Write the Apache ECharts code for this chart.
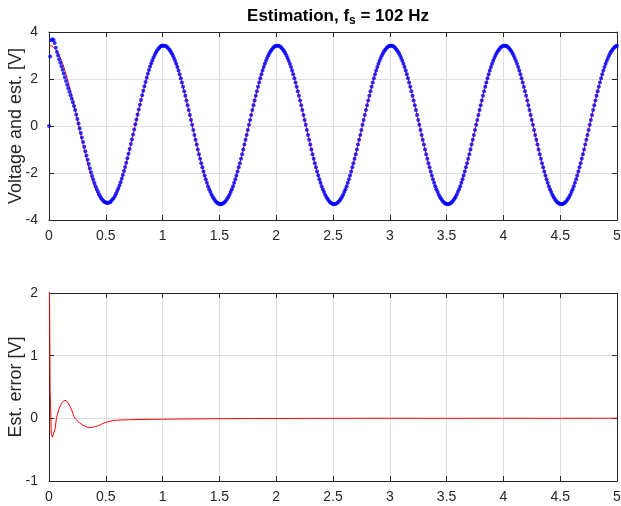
<!DOCTYPE html>
<html>
<head>
<meta charset="utf-8">
<script src="https://cdn.jsdelivr.net/npm/echarts@6/dist/echarts.min.js"></script>
<style>
    html, body { margin: 0; padding: 0; background: #fff; }
    #chart { width: 621px; height: 506px; }
</style>
</head>
<body>
<div id="chart"></div>
<script>
    // sample grid: 0 .. 5 s, one sample every 10 ms
    var sampleStep = 0.01;
    var sampleCount = 501;

    var voltage = [
        3.41, 3.42, 3.41, 3.39, 3.36, 3.31, 3.25, 3.18, 3.10, 3.00, 2.89, 2.78, 2.65, 2.51, 2.36, 2.20, 2.03, 1.85, 1.67, 1.48, 1.29, 1.09, 0.88, 0.68, 0.47, 0.26, 0.05, -0.17, -0.38, -0.59, -0.79, -1.00, -1.20, -1.39, -1.58, -1.76, -1.94, -2.11, -2.27, -2.42, -2.56, -2.69, -2.80, -2.91, -3.01, -3.09, -3.16, -3.22, -3.27, -3.30, -3.32, -3.33, -3.32, -3.30, -3.27, -3.22, -3.16, -3.09, -3.01, -2.91, -2.80, -2.69, -2.56, -2.42, -2.27, -2.11, -1.94, -1.76, -1.58, -1.39, -1.20, -1.00, -0.79, -0.59, -0.38, -0.17, 0.05, 0.26, 0.47, 0.68, 0.88, 1.09, 1.29, 1.48, 1.67, 1.85, 2.03, 2.20, 2.36, 2.51, 2.65, 2.78, 2.89, 3.00, 3.10, 3.18, 3.25, 3.31, 3.36, 3.39,
        3.41, 3.42, 3.41, 3.39, 3.36, 3.31, 3.25, 3.18, 3.10, 3.00, 2.89, 2.78, 2.65, 2.51, 2.36, 2.20, 2.03, 1.85, 1.67, 1.48, 1.29, 1.09, 0.88, 0.68, 0.47, 0.26, 0.05, -0.17, -0.38, -0.59, -0.79, -1.00, -1.20, -1.39, -1.58, -1.76, -1.94, -2.11, -2.27, -2.42, -2.56, -2.69, -2.80, -2.91, -3.01, -3.09, -3.16, -3.22, -3.27, -3.30, -3.32, -3.33, -3.32, -3.30, -3.27, -3.22, -3.16, -3.09, -3.01, -2.91, -2.80, -2.69, -2.56, -2.42, -2.27, -2.11, -1.94, -1.76, -1.58, -1.39, -1.20, -1.00, -0.79, -0.59, -0.38, -0.17, 0.05, 0.26, 0.47, 0.68, 0.88, 1.09, 1.29, 1.48, 1.67, 1.85, 2.03, 2.20, 2.36, 2.51, 2.65, 2.78, 2.89, 3.00, 3.10, 3.18, 3.25, 3.31, 3.36, 3.39,
        3.41, 3.42, 3.41, 3.39, 3.36, 3.31, 3.25, 3.18, 3.10, 3.00, 2.89, 2.78, 2.65, 2.51, 2.36, 2.20, 2.03, 1.85, 1.67, 1.48, 1.29, 1.09, 0.88, 0.68, 0.47, 0.26, 0.05, -0.17, -0.38, -0.59, -0.79, -1.00, -1.20, -1.39, -1.58, -1.76, -1.94, -2.11, -2.27, -2.42, -2.56, -2.69, -2.80, -2.91, -3.01, -3.09, -3.16, -3.22, -3.27, -3.30, -3.32, -3.33, -3.32, -3.30, -3.27, -3.22, -3.16, -3.09, -3.01, -2.91, -2.80, -2.69, -2.56, -2.42, -2.27, -2.11, -1.94, -1.76, -1.58, -1.39, -1.20, -1.00, -0.79, -0.59, -0.38, -0.17, 0.05, 0.26, 0.47, 0.68, 0.88, 1.09, 1.29, 1.48, 1.67, 1.85, 2.03, 2.20, 2.36, 2.51, 2.65, 2.78, 2.89, 3.00, 3.10, 3.18, 3.25, 3.31, 3.36, 3.39,
        3.41, 3.42, 3.41, 3.39, 3.36, 3.31, 3.25, 3.18, 3.10, 3.00, 2.89, 2.78, 2.65, 2.51, 2.36, 2.20, 2.03, 1.85, 1.67, 1.48, 1.29, 1.09, 0.88, 0.68, 0.47, 0.26, 0.05, -0.17, -0.38, -0.59, -0.79, -1.00, -1.20, -1.39, -1.58, -1.76, -1.94, -2.11, -2.27, -2.42, -2.56, -2.69, -2.80, -2.91, -3.01, -3.09, -3.16, -3.22, -3.27, -3.30, -3.32, -3.33, -3.32, -3.30, -3.27, -3.22, -3.16, -3.09, -3.01, -2.91, -2.80, -2.69, -2.56, -2.42, -2.27, -2.11, -1.94, -1.76, -1.58, -1.39, -1.20, -1.00, -0.79, -0.59, -0.38, -0.17, 0.05, 0.26, 0.47, 0.68, 0.88, 1.09, 1.29, 1.48, 1.67, 1.85, 2.03, 2.20, 2.36, 2.51, 2.65, 2.78, 2.89, 3.00, 3.10, 3.18, 3.25, 3.31, 3.36, 3.39,
        3.41, 3.42, 3.41, 3.39, 3.36, 3.31, 3.25, 3.18, 3.10, 3.00, 2.89, 2.78, 2.65, 2.51, 2.36, 2.20, 2.03, 1.85, 1.67, 1.48, 1.29, 1.09, 0.88, 0.68, 0.47, 0.26, 0.05, -0.17, -0.38, -0.59, -0.79, -1.00, -1.20, -1.39, -1.58, -1.76, -1.94, -2.11, -2.27, -2.42, -2.56, -2.69, -2.80, -2.91, -3.01, -3.09, -3.16, -3.22, -3.27, -3.30, -3.32, -3.33, -3.32, -3.30, -3.27, -3.22, -3.16, -3.09, -3.01, -2.91, -2.80, -2.69, -2.56, -2.42, -2.27, -2.11, -1.94, -1.76, -1.58, -1.39, -1.20, -1.00, -0.79, -0.59, -0.38, -0.17, 0.05, 0.26, 0.47, 0.68, 0.88, 1.09, 1.29, 1.48, 1.67, 1.85, 2.03, 2.20, 2.36, 2.51, 2.65, 2.78, 2.89, 3.00, 3.10, 3.18, 3.25, 3.31, 3.36, 3.39,
        3.41
    ];

    // estimator output [V] (blue dots)
    var estimate = [
        0, 2.96, 3.65, 3.69, 3.66, 3.53, 3.33, 3.15, 3.00, 2.84, 2.69, 2.54, 2.39, 2.23, 2.07, 1.92, 1.76, 1.61, 1.46, 1.31, 1.16, 1.01, 0.85, 0.68, 0.49, 0.30, 0.11, -0.10, -0.30, -0.49, -0.68, -0.88, -1.07, -1.26, -1.44, -1.62, -1.80, -1.97, -2.13, -2.28, -2.43, -2.56, -2.68, -2.79, -2.90, -2.99, -3.07, -3.14, -3.19, -3.23, -3.26, -3.27, -3.27, -3.25, -3.23, -3.18, -3.12, -3.06, -2.98, -2.88, -2.77, -2.66, -2.53, -2.39, -2.24, -2.09, -1.92, -1.74, -1.56, -1.37, -1.18, -0.98, -0.77, -0.57, -0.36, -0.15, 0.07, 0.28, 0.49, 0.70, 0.90, 1.11, 1.31, 1.50, 1.69, 1.87, 2.05, 2.22, 2.38, 2.53, 2.67, 2.80, 2.91, 3.02, 3.12, 3.20, 3.27, 3.33, 3.38, 3.41,
        3.41, 3.42, 3.41, 3.39, 3.36, 3.31, 3.25, 3.18, 3.10, 3.00, 2.89, 2.78, 2.65, 2.51, 2.36, 2.20, 2.03, 1.85, 1.67, 1.48, 1.29, 1.09, 0.88, 0.68, 0.47, 0.26, 0.05, -0.17, -0.38, -0.59, -0.79, -1.00, -1.20, -1.39, -1.58, -1.76, -1.94, -2.11, -2.27, -2.42, -2.56, -2.69, -2.80, -2.91, -3.01, -3.09, -3.16, -3.22, -3.27, -3.30, -3.32, -3.33, -3.32, -3.30, -3.27, -3.22, -3.16, -3.09, -3.01, -2.91, -2.80, -2.69, -2.56, -2.42, -2.27, -2.11, -1.94, -1.76, -1.58, -1.39, -1.20, -1.00, -0.79, -0.59, -0.38, -0.17, 0.05, 0.26, 0.47, 0.68, 0.88, 1.09, 1.29, 1.48, 1.67, 1.85, 2.03, 2.20, 2.36, 2.51, 2.65, 2.78, 2.89, 3.00, 3.10, 3.18, 3.25, 3.31, 3.36, 3.39,
        3.41, 3.42, 3.41, 3.39, 3.36, 3.31, 3.25, 3.18, 3.10, 3.00, 2.89, 2.78, 2.65, 2.51, 2.36, 2.20, 2.03, 1.85, 1.67, 1.48, 1.29, 1.09, 0.88, 0.68, 0.47, 0.26, 0.05, -0.17, -0.38, -0.59, -0.79, -1.00, -1.20, -1.39, -1.58, -1.76, -1.94, -2.11, -2.27, -2.42, -2.56, -2.69, -2.80, -2.91, -3.01, -3.09, -3.16, -3.22, -3.27, -3.30, -3.32, -3.33, -3.32, -3.30, -3.27, -3.22, -3.16, -3.09, -3.01, -2.91, -2.80, -2.69, -2.56, -2.42, -2.27, -2.11, -1.94, -1.76, -1.58, -1.39, -1.20, -1.00, -0.79, -0.59, -0.38, -0.17, 0.05, 0.26, 0.47, 0.68, 0.88, 1.09, 1.29, 1.48, 1.67, 1.85, 2.03, 2.20, 2.36, 2.51, 2.65, 2.78, 2.89, 3.00, 3.10, 3.18, 3.25, 3.31, 3.36, 3.39,
        3.41, 3.42, 3.41, 3.39, 3.36, 3.31, 3.25, 3.18, 3.10, 3.00, 2.89, 2.78, 2.65, 2.51, 2.36, 2.20, 2.03, 1.85, 1.67, 1.48, 1.29, 1.09, 0.88, 0.68, 0.47, 0.26, 0.05, -0.17, -0.38, -0.59, -0.79, -1.00, -1.20, -1.39, -1.58, -1.76, -1.94, -2.11, -2.27, -2.42, -2.56, -2.69, -2.80, -2.91, -3.01, -3.09, -3.16, -3.22, -3.27, -3.30, -3.32, -3.33, -3.32, -3.30, -3.27, -3.22, -3.16, -3.09, -3.01, -2.91, -2.80, -2.69, -2.56, -2.42, -2.27, -2.11, -1.94, -1.76, -1.58, -1.39, -1.20, -1.00, -0.79, -0.59, -0.38, -0.17, 0.05, 0.26, 0.47, 0.68, 0.88, 1.09, 1.29, 1.48, 1.67, 1.85, 2.03, 2.20, 2.36, 2.51, 2.65, 2.78, 2.89, 3.00, 3.10, 3.18, 3.25, 3.31, 3.36, 3.39,
        3.41, 3.42, 3.41, 3.39, 3.36, 3.31, 3.25, 3.18, 3.10, 3.00, 2.89, 2.78, 2.65, 2.51, 2.36, 2.20, 2.03, 1.85, 1.67, 1.48, 1.29, 1.09, 0.88, 0.68, 0.47, 0.26, 0.05, -0.17, -0.38, -0.59, -0.79, -1.00, -1.20, -1.39, -1.58, -1.76, -1.94, -2.11, -2.27, -2.42, -2.56, -2.69, -2.80, -2.91, -3.01, -3.09, -3.16, -3.22, -3.27, -3.30, -3.32, -3.33, -3.32, -3.30, -3.27, -3.22, -3.16, -3.09, -3.01, -2.91, -2.80, -2.69, -2.56, -2.42, -2.27, -2.11, -1.94, -1.76, -1.58, -1.39, -1.20, -1.00, -0.79, -0.59, -0.38, -0.17, 0.05, 0.26, 0.47, 0.68, 0.88, 1.09, 1.29, 1.48, 1.67, 1.85, 2.03, 2.20, 2.36, 2.51, 2.65, 2.78, 2.89, 3.00, 3.10, 3.18, 3.25, 3.31, 3.36, 3.39,
        3.41
    ];

    // estimation error (lower plot)
    var errTime = [0, 0.01, 0.02, 0.03, 0.035, 0.045, 0.055, 0.065, 0.08, 0.09, 0.10, 0.11, 0.12, 0.13, 0.14, 0.15, 0.16, 0.17, 0.18, 0.19, 0.20, 0.21, 0.22, 0.23, 0.25, 0.27, 0.29, 0.31, 0.33, 0.35, 0.37, 0.39, 0.41, 0.43, 0.45, 0.47, 0.50, 0.53, 0.56, 0.60, 0.65, 0.70, 0.80, 0.90, 1.00, 1.2, 1.4, 1.6, 1.8, 2.0, 2.5, 3.0, 3.5, 4.0, 4.5, 5.0];
    var errValue = [3.41, 0.46, -0.24, -0.30, -0.32, -0.28, -0.16, 0.0, 0.10, 0.16, 0.20, 0.24, 0.265, 0.28, 0.29, 0.285, 0.27, 0.24, 0.21, 0.17, 0.13, 0.08, 0.03, -0.005, -0.04, -0.07, -0.10, -0.12, -0.135, -0.145, -0.145, -0.14, -0.13, -0.12, -0.105, -0.085, -0.065, -0.05, -0.037, -0.03, -0.025, -0.023, -0.019, -0.016, -0.014, -0.01, -0.007, -0.005, -0.003, -0.002, 0, 0.001, 0, 0.001, 0, 0.002];

    var xTicks = { min: 0, max: 5, interval: 0.5 };
    var topTicks = { min: -4, max: 4, interval: 2 };
    var bottomTicks = { min: -1, max: 2, interval: 1 };

    var time = [];
    for (var i = 0; i < sampleCount; i++) {
        time.push(+(i * sampleStep).toFixed(2));
    }
    var voltagePts = time.map(function (t, i) { return [t, voltage[i]]; });
    var estimatePts = time.map(function (t, i) { return [t, estimate[i]]; });
    var errPts = errTime.map(function (t, i) { return [t, errValue[i]]; });

    var font = 'Liberation Sans, Arial, Helvetica, sans-serif';
    var ink = '#262626';

    function xAx(grid, pos, ticks, labels) {
        return {
            type: 'value', gridIndex: grid, position: pos,
            min: ticks.min, max: ticks.max, interval: ticks.interval,
            axisLine: { show: true, onZero: false, lineStyle: { color: ink, width: 1 } },
            axisTick: { show: true, inside: true, length: 5, lineStyle: { color: ink } },
            axisLabel: { show: labels, color: ink, fontSize: 14, fontFamily: font, margin: 9 },
            splitLine: { show: labels, lineStyle: { color: '#dfdfdf', width: 1 } }
        };
    }
    function yAx(grid, pos, ticks, labels, name) {
        return {
            type: 'value', gridIndex: grid, position: pos,
            min: ticks.min, max: ticks.max, interval: ticks.interval,
            name: name || '', nameLocation: 'middle', nameGap: 24, nameMoveOverlap: false,
            nameTextStyle: { color: ink, fontSize: 18, fontFamily: font },
            axisLine: { show: true, onZero: false, lineStyle: { color: ink, width: 1 } },
            axisTick: { show: true, inside: true, length: 5, lineStyle: { color: ink } },
            axisLabel: { show: labels, color: ink, fontSize: 14, fontFamily: font, margin: 11 },
            splitLine: { show: labels, lineStyle: { color: '#dfdfdf', width: 1 } }
        };
    }

    var myChart = echarts.init(document.getElementById('chart'), null, { renderer: 'canvas' });
    var option = {
        animation: false,
        backgroundColor: '#fff',
        title: {
            text: '{b|Estimation, f}{s|s}{b| = 102 Hz}',
            left: 333, top: 1, textAlign: 'center',
            textStyle: {
                rich: {
                    b: { fontSize: 17, fontWeight: 'bold', color: '#000', fontFamily: font, lineHeight: 20 },
                    s: { fontSize: 12, fontWeight: 'bold', color: '#000', fontFamily: font, padding: [9, 0, 0, 0], lineHeight: 20 }
                }
            }
        },
        grid: [
            { left: 49, top: 32, width: 568, height: 188, containLabel: false, outerBoundsMode: 'none' },
            { left: 49, top: 293, width: 568, height: 188, containLabel: false, outerBoundsMode: 'none' }
        ],
        xAxis: [
            xAx(0, 'bottom', xTicks, true),
            xAx(0, 'top', xTicks, false),
            xAx(1, 'bottom', xTicks, true),
            xAx(1, 'top', xTicks, false)
        ],
        yAxis: [
            yAx(0, 'left', topTicks, true, 'Voltage and est. [V]'),
            yAx(0, 'right', topTicks, false),
            yAx(1, 'left', bottomTicks, true, 'Est. error [V]'),
            yAx(1, 'right', bottomTicks, false)
        ],
        series: [
            {
                name: 'Voltage', type: 'line', xAxisIndex: 0, yAxisIndex: 0,
                data: voltagePts, showSymbol: false, symbol: 'none',
                lineStyle: { color: '#ff0000', width: 1 }, z: 2
            },
            {
                name: 'Estimate', type: 'scatter', xAxisIndex: 0, yAxisIndex: 0,
                data: estimatePts, symbol: 'circle', symbolSize: 4,
                itemStyle: { color: '#0000ff' }, z: 3
            },
            {
                name: 'Error', type: 'line', xAxisIndex: 2, yAxisIndex: 2,
                data: errPts, showSymbol: false, symbol: 'none',
                lineStyle: { color: '#ff0000', width: 1 }, z: 2
            }
        ]
    };
    option && myChart.setOption(option);
</script>
</body>
</html>
